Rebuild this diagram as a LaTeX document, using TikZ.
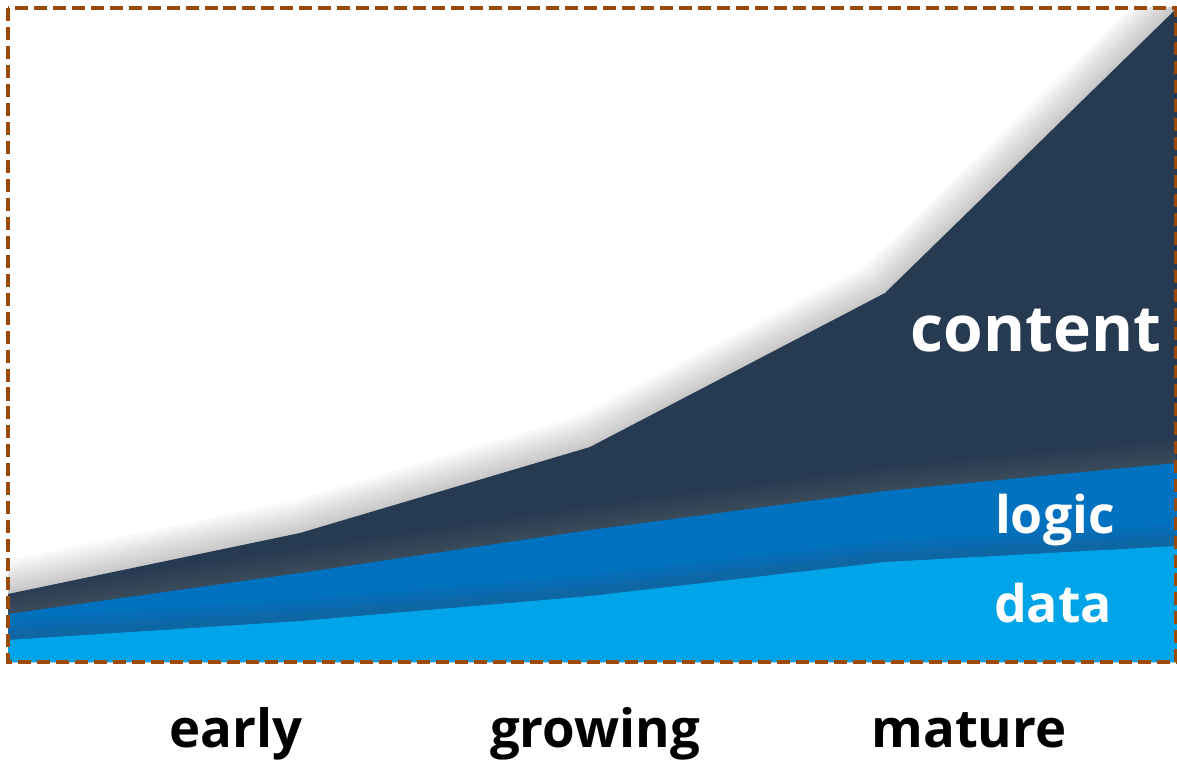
\documentclass[tikz,border=0pt]{standalone}
\usepackage{fontspec}
\setsansfont{Open Sans}
\definecolor{contentblue}{HTML}{263A52}
\definecolor{logicblue}{HTML}{0072C0}
\definecolor{datablue}{HTML}{00A4E8}
\definecolor{framebrown}{HTML}{9C4A08}
\begin{document}
\begin{tikzpicture}
	[	x=0.02cm,y=-0.02cm,
	band/.style={draw=none},
	glow/.style={line join=round,black!70,opacity=0.03},
	label/.style={anchor=base,text=white},
	stage/.style={anchor=base,font=\sffamily\bfseries\fontsize{30}{30}\selectfont,text=black}
	]
	\useasboundingbox (0,0) rectangle (1177,763);

	\begin{scope}
	\clip (8,8) rectangle (1177,662);
	% content layer with its glow
	\foreach \w in {6,12,...,66}
		\draw[glow,line width=\w*0.02cm] (8,594) -- (300,533) -- (590,447) -- (885,293) -- (1177,8) -- (1250,-80);
	\fill[band,contentblue] (8,662) -- (8,594) -- (300,533) -- (590,447) -- (885,293) -- (1177,8) -- (1177,662) -- cycle;
	% logic layer
	\foreach \w in {6,12,...,48}
		\draw[glow,black!45,line width=\w*0.02cm] (8,614) -- (300,573) -- (590,530) -- (885,491) -- (1177,463);
	\fill[band,logicblue] (8,662) -- (8,614) -- (300,573) -- (590,530) -- (885,491) -- (1177,463) -- (1177,662) -- cycle;
	% data layer
	\foreach \w in {6,12,...,48}
		\draw[glow,line width=\w*0.02cm] (8,640) -- (300,621) -- (590,596) -- (885,562) -- (1177,546);
	\fill[band,datablue] (8,662) -- (8,640) -- (300,621) -- (590,596) -- (885,562) -- (1177,546) -- (1177,662) -- cycle;
	\end{scope}

	\draw[framebrown,line width=2.2pt,dash pattern=on 7.4pt off 3.4pt] (8,8) rectangle (1176,662);

	\node[label,font=\sffamily\bfseries\fontsize{36.5}{36.5}\selectfont] (content) at (1036,352){content};
	\node[label,font=\sffamily\bfseries\fontsize{29.5}{29.5}\selectfont] (logic) at (1055,534){logic};
	\node[label,font=\sffamily\bfseries\fontsize{29.5}{29.5}\selectfont] (data) at (1053,622){data};

	\node[stage] (early) at (236,747){early};
	\node[stage] (growing) at (595,747){growing};
	\node[stage] (mature) at (969,747){mature};
\end{tikzpicture}
\end{document}
